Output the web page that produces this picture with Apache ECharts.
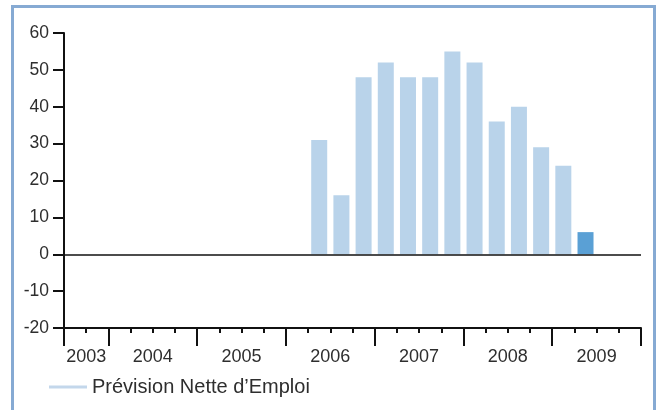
<!DOCTYPE html>
<html>
<head>
<meta charset="utf-8">
<script src="https://cdn.jsdelivr.net/npm/echarts@6/dist/echarts.min.js"></script>
<style>
  html, body { margin: 0; padding: 0; background: #fff; }
  #frame { position: absolute; left: 11px; top: 5px; width: 639px; height: 420px; border: 3px solid #86aad3; }
  #chart { position: absolute; left: 0; top: 0; width: 662px; height: 410px; }
</style>
</head>
<body>
<div id="frame"></div>
<div id="chart"></div>
<script>
// trimestres, de T3 2003 à T4 2009
const quarters = [
  'T3 2003', 'T4 2003',
  'T1 2004', 'T2 2004', 'T3 2004', 'T4 2004',
  'T1 2005', 'T2 2005', 'T3 2005', 'T4 2005',
  'T1 2006', 'T2 2006', 'T3 2006', 'T4 2006',
  'T1 2007', 'T2 2007', 'T3 2007', 'T4 2007',
  'T1 2008', 'T2 2008', 'T3 2008', 'T4 2008',
  'T1 2009', 'T2 2009', 'T3 2009', 'T4 2009'
];
const netForecast = [
  null, null,
  null, null, null, null,
  null, null, null, null,
  null, 31, 16, 48,
  52, 48, 48, 55,
  52, 36, 40, 29,
  24, 6, null, null
];
const seriesName = 'Prévision Nette d\u2019Emploi';
const yTicks = { min: -20, max: 60, step: 10 };

const chart = echarts.init(document.getElementById('chart'));
const font = "'Liberation Sans', Arial, sans-serif";
const txt = '#2e2e2e';
const light = '#b9d3ea';
const dark = '#5aa0d5';

// dernier trimestre publié en bleu foncé
let lastIdx = -1;
netForecast.forEach((v, i) => { if (v !== null) lastIdx = i; });
const barData = netForecast.map((v, i) => ({
  value: v,
  itemStyle: { color: i === lastIdx ? dark : light }
}));

// axe des limites de trimestres (n+1 points) pour les années et les grands traits
const yearOf = q => q.split(' ')[1];
const bounds = new Array(quarters.length + 1).fill('');
const majorAt = new Set([quarters.length]);
let start = 0;
for (let i = 1; i <= quarters.length; i++) {
  if (i === quarters.length || yearOf(quarters[i]) !== yearOf(quarters[start])) {
    majorAt.add(start);
    bounds[(start + i) / 2] = yearOf(quarters[start]);
    start = i;
  }
}

const option = {
  animation: false,
  textStyle: { fontFamily: font },
  grid: { left: 64, right: 21, top: 33, bottom: 82 },
  legend: {
    left: 44, top: 372,
    itemWidth: 38, itemHeight: 3, itemGap: 8,
    textStyle: { fontFamily: font, fontSize: 20, color: txt },
    data: [{ name: seriesName, icon: 'rect', itemStyle: { color: '#c3d7eb' } }]
  },
  xAxis: [
    {
      type: 'category',
      data: quarters,
      position: 'bottom',
      axisLine: { onZero: false, lineStyle: { color: '#111', width: 2 } },
      axisTick: { show: true, interval: 0, length: 5, lineStyle: { color: '#111', width: 2 } },
      axisLabel: { show: false },
      splitLine: { show: false }
    },
    {
      type: 'category',
      data: bounds,
      boundaryGap: false,
      position: 'bottom',
      axisLine: { show: false, onZero: false },
      axisTick: {
        show: true, length: 18,
        interval: (idx) => majorAt.has(idx),
        lineStyle: { color: '#111', width: 2 }
      },
      axisLabel: {
        interval: (idx, val) => val !== '',
        margin: 20, fontSize: 18, color: txt, fontFamily: font
      },
      splitLine: { show: false }
    }
  ],
  yAxis: {
    type: 'value',
    min: yTicks.min, max: yTicks.max, interval: yTicks.step,
    axisLine: { show: true, lineStyle: { color: '#111', width: 2 } },
    axisTick: { show: true, length: 11, lineStyle: { color: '#111', width: 2 } },
    axisLabel: { margin: 15, fontSize: 17.5, color: txt, fontFamily: font },
    splitLine: { show: false }
  },
  series: [{
    name: seriesName,
    type: 'bar',
    xAxisIndex: 0,
    barWidth: 16,
    data: barData,
    markLine: {
      silent: true,
      symbol: 'none',
      label: { show: false },
      lineStyle: { color: '#111', width: 1.5, type: 'solid' },
      data: [{ yAxis: 0 }]
    }
  }]
};

chart.setOption(option);
</script>
</body>
</html>
